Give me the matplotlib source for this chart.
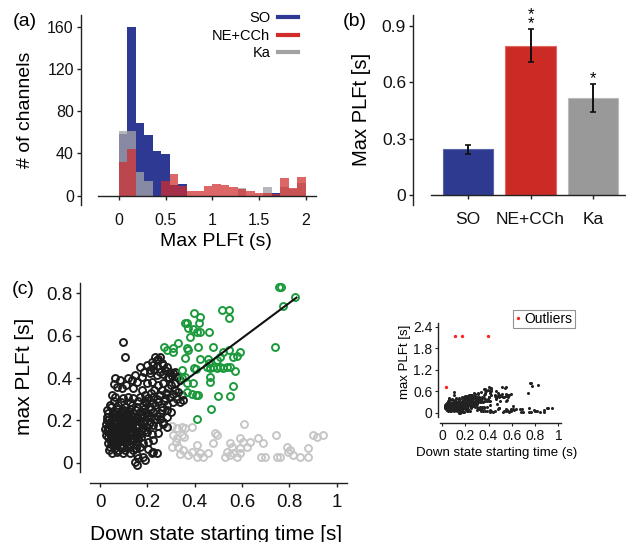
"""Max PLFt figure: histogram (a), bar means (b), scatter vs down-state onset (c) with inset."""

import matplotlib

matplotlib.use("Agg")
import matplotlib.pyplot as plt
import numpy as np
from matplotlib.lines import Line2D

plt.rcParams["font.family"] = ["Liberation Sans", "DejaVu Sans"]

# ---- panel (a): histogram counts, 22 bins over 0..2 s
bin_edges = np.linspace(0.0, 2.0, 23)
so_counts = [58, 160, 69, 57, 42, 39, 10, 11, 0, 0, 0, 0, 0, 0, 0, 0, 0, 0, 3, 0, 0, 0]
ka_counts = [61, 61, 22, 14, 0, 0, 0, 0, 0, 0, 0, 0, 0, 0, 7.5, 0, 0, 8.5, 0, 8, 6, 12]
ne_counts = [32, 44, 0, 0, 0, 14, 21, 9, 4, 4, 9, 11, 10, 8, 6, 4, 3, 3, 2, 17, 7, 18]
hist_labels = ["SO", "NE+CCh", "Ka"]

# ---- panel (b): condition means and errors
conditions = ["SO", "NE+CCh", "Ka"]
mean_plft = [0.245, 0.796, 0.515]
sem_plft = [0.024, 0.088, 0.075]
stars = ["", "*\n*", "*"]

# ---- panel (c): scatter points (down state start [s], max PLFt [s])
black_points = [
    (0.099, 0.572), (0.106, 0.498), (0.169, 0.450),
    (0.232, 0.498), (0.254, 0.498), (0.239, 0.485), (0.218, 0.477), (0.246, 0.490),
    (0.197, 0.461), (0.225, 0.461), (0.268, 0.461), (0.282, 0.454), (0.240, 0.455),
    (0.296, 0.430), (0.303, 0.409), (0.310, 0.422), (0.289, 0.406), (0.318, 0.430),
    (0.063, 0.398), (0.085, 0.391), (0.120, 0.398), (0.134, 0.391), (0.155, 0.383),
    (0.148, 0.414), (0.176, 0.406), (0.211, 0.422), (0.239, 0.414), (0.254, 0.430),
    (0.268, 0.420), (0.070, 0.359), (0.092, 0.351), (0.141, 0.351), (0.060, 0.372),
    (0.108, 0.365), (0.197, 0.375), (0.218, 0.383), (0.246, 0.367), (0.268, 0.375),
    (0.289, 0.351), (0.317, 0.343), (0.331, 0.335), (0.345, 0.320), (0.324, 0.406),
    (0.338, 0.391), (0.317, 0.375), (0.300, 0.365), (0.230, 0.345), (0.176, 0.345),
    (0.049, 0.320), (0.063, 0.312), (0.099, 0.304), (0.120, 0.312), (0.141, 0.304),
    (0.169, 0.312), (0.204, 0.304), (0.225, 0.312), (0.254, 0.320), (0.275, 0.304),
    (0.296, 0.312), (0.324, 0.299), (0.349, 0.296), (0.310, 0.325),
    (0.042, 0.272), (0.077, 0.272), (0.106, 0.265), (0.134, 0.272), (0.155, 0.265),
    (0.183, 0.272), (0.058, 0.290), (0.090, 0.285), (0.125, 0.288), (0.160, 0.290),
    (0.190, 0.290), (0.211, 0.265), (0.232, 0.272), (0.261, 0.265), (0.282, 0.272),
    (0.310, 0.288), (0.338, 0.288), (0.245, 0.285), (0.270, 0.290),
    (0.035, 0.233), (0.056, 0.241), (0.085, 0.233), (0.113, 0.241), (0.141, 0.233),
    (0.169, 0.241), (0.197, 0.233), (0.070, 0.255), (0.100, 0.250), (0.128, 0.255),
    (0.185, 0.252), (0.225, 0.241), (0.254, 0.233), (0.282, 0.249), (0.300, 0.240),
    (0.215, 0.252),
    (0.028, 0.202), (0.042, 0.194), (0.063, 0.202), (0.077, 0.209), (0.092, 0.194),
    (0.110, 0.202), (0.127, 0.194), (0.148, 0.202), (0.169, 0.194), (0.190, 0.202),
    (0.211, 0.194), (0.232, 0.205), (0.254, 0.205), (0.268, 0.194), (0.282, 0.217),
    (0.030, 0.218), (0.050, 0.222), (0.068, 0.215), (0.085, 0.222), (0.102, 0.218),
    (0.120, 0.222), (0.138, 0.216), (0.158, 0.222), (0.178, 0.216), (0.200, 0.220),
    (0.035, 0.170), (0.056, 0.162), (0.073, 0.173), (0.092, 0.157), (0.113, 0.170),
    (0.134, 0.162), (0.155, 0.170), (0.176, 0.162), (0.197, 0.170), (0.225, 0.178),
    (0.246, 0.173), (0.268, 0.181), (0.282, 0.170),
    (0.025, 0.185), (0.045, 0.180), (0.062, 0.186), (0.082, 0.178), (0.100, 0.185),
    (0.120, 0.180), (0.140, 0.186), (0.160, 0.180), (0.182, 0.186), (0.205, 0.182),
    (0.042, 0.136), (0.063, 0.128), (0.085, 0.136), (0.106, 0.128), (0.127, 0.136),
    (0.148, 0.128), (0.169, 0.136), (0.197, 0.143), (0.218, 0.136), (0.246, 0.139),
    (0.030, 0.148), (0.050, 0.150), (0.070, 0.145), (0.090, 0.150), (0.110, 0.146),
    (0.130, 0.150), (0.150, 0.146), (0.172, 0.150), (0.188, 0.155),
    (0.042, 0.106), (0.063, 0.099), (0.085, 0.104), (0.106, 0.099), (0.134, 0.106),
    (0.155, 0.099), (0.183, 0.091), (0.204, 0.099), (0.225, 0.106),
    (0.035, 0.120), (0.055, 0.118), (0.075, 0.115), (0.095, 0.120), (0.118, 0.115),
    (0.140, 0.118), (0.160, 0.115), (0.175, 0.120),
    (0.042, 0.076), (0.063, 0.068), (0.085, 0.072), (0.113, 0.076), (0.141, 0.060),
    (0.169, 0.076), (0.204, 0.063), (0.225, 0.052), (0.239, 0.047),
    (0.050, 0.090), (0.072, 0.088), (0.095, 0.085), (0.122, 0.090), (0.150, 0.085),
    (0.049, 0.047), (0.070, 0.052), (0.099, 0.044), (0.127, 0.047), (0.155, 0.036),
    (0.183, 0.028), (0.218, 0.044),
    (0.148, 0.005), (0.155, -0.011), (0.190, 0.013), (0.160, 0.020),
    (0.022, 0.160), (0.038, 0.155), (0.052, 0.172), (0.066, 0.158), (0.080, 0.166),
    (0.097, 0.172), (0.104, 0.158), (0.122, 0.165), (0.137, 0.175), (0.145, 0.155),
    (0.026, 0.132), (0.048, 0.138), (0.058, 0.124), (0.078, 0.130), (0.096, 0.138),
    (0.115, 0.127), (0.137, 0.140), (0.157, 0.130),
    (0.034, 0.095), (0.055, 0.105), (0.075, 0.098), (0.092, 0.110), (0.115, 0.100),
    (0.128, 0.112), (0.145, 0.108),
    (0.040, 0.062), (0.056, 0.080), (0.078, 0.060), (0.092, 0.070), (0.106, 0.062),
    (0.128, 0.072), (0.152, 0.070),
    (0.030, 0.250), (0.046, 0.262), (0.064, 0.232), (0.094, 0.242), (0.118, 0.230),
    (0.150, 0.248), (0.176, 0.230),
    (0.038, 0.205), (0.056, 0.210), (0.072, 0.196), (0.088, 0.208), (0.104, 0.196),
    (0.118, 0.210), (0.136, 0.204), (0.158, 0.210),
    (0.190, 0.320), (0.215, 0.330), (0.260, 0.345), (0.280, 0.330), (0.240, 0.300),
    (0.195, 0.280), (0.225, 0.280), (0.260, 0.250), (0.240, 0.220), (0.215, 0.215),
    (0.190, 0.240), (0.290, 0.400), (0.275, 0.440), (0.260, 0.470), (0.230, 0.440),
    (0.210, 0.440), (0.185, 0.430),
]

green_points = [
    (0.758, 0.828), (0.765, 0.828), (0.824, 0.784), (0.775, 0.742), (0.741, 0.545),
    (0.514, 0.721), (0.546, 0.721), (0.544, 0.682), (0.399, 0.706), (0.423, 0.690),
    (0.420, 0.658), (0.359, 0.658), (0.366, 0.658), (0.373, 0.635), (0.392, 0.630),
    (0.408, 0.619), (0.423, 0.619), (0.380, 0.595), (0.462, 0.619), (0.272, 0.545),
    (0.310, 0.540), (0.307, 0.524), (0.331, 0.567), (0.366, 0.540), (0.373, 0.532),
    (0.415, 0.545), (0.479, 0.545), (0.518, 0.524), (0.546, 0.532), (0.592, 0.524),
    (0.359, 0.493), (0.423, 0.488), (0.458, 0.488), (0.462, 0.472), (0.493, 0.485),
    (0.507, 0.501), (0.563, 0.498), (0.577, 0.504), (0.399, 0.449), (0.404, 0.443),
    (0.345, 0.438), (0.451, 0.454), (0.465, 0.446), (0.479, 0.454), (0.493, 0.449),
    (0.507, 0.454), (0.521, 0.449), (0.535, 0.450), (0.549, 0.454), (0.570, 0.433),
    (0.465, 0.406), (0.345, 0.398), (0.359, 0.406), (0.366, 0.375), (0.394, 0.375),
    (0.465, 0.383), (0.561, 0.362), (0.366, 0.335), (0.387, 0.324), (0.406, 0.320),
    (0.415, 0.320), (0.500, 0.315), (0.549, 0.315), (0.468, 0.252), (0.408, 0.208),
    (0.282, 0.532),
]

gray_points = [
    (0.303, 0.173), (0.324, 0.162), (0.345, 0.170), (0.359, 0.162), (0.387, 0.170),
    (0.310, 0.131), (0.324, 0.115), (0.345, 0.131), (0.356, 0.123), (0.303, 0.076),
    (0.331, 0.076), (0.352, 0.060), (0.338, 0.039), (0.373, 0.036), (0.408, 0.083),
    (0.387, 0.052), (0.423, 0.047), (0.408, 0.028), (0.437, 0.028), (0.458, 0.044),
    (0.486, 0.139), (0.479, 0.091), (0.535, 0.052), (0.549, 0.091), (0.556, 0.076),
    (0.563, 0.047), (0.577, 0.028), (0.528, 0.028), (0.549, 0.036), (0.592, 0.115),
    (0.606, 0.099), (0.620, 0.076), (0.634, 0.099), (0.610, 0.181), (0.590, 0.068),
    (0.592, 0.047), (0.669, 0.115), (0.690, 0.091), (0.679, 0.028), (0.697, 0.028),
    (0.744, 0.131), (0.746, 0.028), (0.761, 0.028), (0.789, 0.076), (0.796, 0.052),
    (0.803, 0.060), (0.817, 0.036), (0.845, 0.028), (0.880, 0.068), (0.880, 0.028),
    (0.901, 0.131), (0.915, 0.123), (0.944, 0.131), (0.493, 0.131), (0.320, 0.100),
]

fit_x = [0.32, 0.83]
fit_y = [0.355, 0.78]

outlier_x = [0.033, 0.110, 0.173, 0.397]
outlier_y = [0.726, 2.14, 2.14, 2.14]

W, H = 626, 542
AXIS_COLOR = "#222222"


def px_rect(left, top, right, bottom):
    """Figure-fraction rect from pixel box (top-left origin)."""
    return [left / W, 1 - bottom / H, (right - left) / W, (bottom - top) / H]


def style_axes(ax, tick_size):
    for side in ("top", "right"):
        ax.spines[side].set_visible(False)
    for side in ("left", "bottom"):
        ax.spines[side].set_color(AXIS_COLOR)
        ax.spines[side].set_linewidth(1.0)
    ax.tick_params(direction="out", length=3.2, width=1.0, color=AXIS_COLOR,
                   labelsize=tick_size, labelcolor="#111111")
    ax.patch.set_visible(False)


def plot_hist(fig):
    ax = fig.add_axes(px_rect(81, 15, 316, 205))
    style_axes(ax, 11.5)
    left = bin_edges[:-1]
    width = np.diff(bin_edges)
    ax.bar(left, so_counts, width=width, align="edge", color="#2d3992", linewidth=0)
    ax.bar(left, ka_counts, width=width, align="edge", color="#a2a2aa", alpha=0.78, linewidth=0)
    ax.bar(left, ne_counts, width=width, align="edge", color="#d12c2c", alpha=0.72, linewidth=0)
    ax.set_xlim(-0.407, 2.111)
    ax.set_ylim(-8.8, 171)
    ax.spines["bottom"].set_position(("data", 0))
    ax.spines["bottom"].set_bounds(-0.22, 2.111)
    ax.set_xticks([0, 0.5, 1, 1.5, 2], ["0", "0.5", "1", "1.5", "2"])
    ax.set_yticks([0, 40, 80, 120, 160])
    ax.tick_params(axis="x", pad=9)
    ax.tick_params(axis="y", pad=2)
    ax.set_xlabel("Max PLFt (s)", fontsize=14)
    ax.xaxis.label.set_va("center")
    ax.xaxis.set_label_coords(0.574, -0.193)
    ax.set_ylabel("# of channels", fontsize=14)
    ax.yaxis.label.set_va("center")
    ax.yaxis.set_label_coords(-0.238, 0.5)

    handles = [Line2D([], [], color=c, lw=3) for c in ("#2d3992", "#d12c2c", "#a2a2a2")]
    leg = ax.legend(handles, hist_labels, loc="upper right", bbox_to_anchor=(298 / W, 1 - 11 / H),
                    bbox_transform=fig.transFigure, frameon=False, markerfirst=False,
                    fontsize=10.5, handlelength=1.4, handletextpad=0.5, labelspacing=0.25,
                    borderpad=0, borderaxespad=0)
    for col in leg._legend_handle_box.get_children():
        col.align = "right"
    fig.text(13 / W, 1 - 22 / H, "(a)", fontsize=14, va="center", ha="left")


def plot_bars(fig):
    ax = fig.add_axes(px_rect(413.3, 15, 626, 205))
    style_axes(ax, 12.5)
    pos = np.arange(1, len(conditions) + 1)
    ax.bar(pos, mean_plft, width=0.8, color=["#2e3a8f", "#cc2b25", "#999999"],
           edgecolor=["#5a64a8", "#e06a63", "#bbbbbb"], linewidth=0.8)
    ax.errorbar(pos, mean_plft, yerr=sem_plft, fmt="none", ecolor="#111111",
                elinewidth=1.4, capsize=2.5, capthick=1.2)
    for x, m, e, s in zip(pos, mean_plft, sem_plft, stars):
        if s:
            ax.text(x, m + e - 0.012, s, ha="center", va="bottom", fontsize=12,
                    linespacing=0.55, clip_on=False)
    ax.set_xlim(0.134, 3.52)
    ax.set_ylim(-0.053, 0.9586)
    ax.spines["bottom"].set_position(("data", 0))
    ax.spines["bottom"].set_bounds(0.416, 3.52)
    ax.set_xticks(pos, conditions)
    ax.set_yticks([0, 0.3, 0.6, 0.9], ["0", "0.3", "0.6", "0.9"])
    ax.tick_params(axis="x", pad=9)
    ax.tick_params(axis="y", pad=2)
    ax.set_ylabel("Max PLFt [s]", fontsize=14.5)
    ax.yaxis.label.set_va("center")
    ax.yaxis.set_label_coords(-0.243, 0.505)
    fig.text(343 / W, 1 - 21 / H, "(b)", fontsize=14, va="center", ha="left")


def plot_scatter(fig):
    ax = fig.add_axes(px_rect(80, 283, 347, 483))
    style_axes(ax, 13.5)
    blk = np.array(black_points)
    grn = np.array(green_points)
    gry = np.array(gray_points)
    mk = dict(marker="o", ls="none", mfc="none", ms=5.0, mew=1.4)
    ax.plot(gry[:, 0], gry[:, 1], mec="#c6c6c6", **mk)
    ax.plot(blk[:, 0], blk[:, 1], mec="#1c1c1c", **mk)
    ax.plot(grn[:, 0], grn[:, 1], mec="#1b9a3c", **mk)
    ax.plot(fit_x, fit_y, color="#111111", lw=1.5)
    ax.set_xlim(-0.0845, 1.0435)
    ax.set_ylim(-0.0959, 0.849)
    ax.spines["left"].set_bounds(-0.044, 0.849)
    ax.spines["bottom"].set_bounds(-0.042, 1.0435)
    ax.set_xticks([0, 0.2, 0.4, 0.6, 0.8, 1], ["0", "0.2", "0.4", "0.6", "0.8", "1"])
    ax.set_yticks([0, 0.2, 0.4, 0.6, 0.8], ["0", "0.2", "0.4", "0.6", "0.8"])
    ax.tick_params(axis="x", pad=5)
    ax.tick_params(axis="y", pad=2)
    ax.set_xlabel("Down state starting time [s]", fontsize=15)
    ax.xaxis.label.set_va("center")
    ax.xaxis.set_label_coords(0.509, -0.255)
    ax.set_ylabel("max PLFt [s]", fontsize=15)
    ax.yaxis.label.set_va("center")
    ax.yaxis.set_label_coords(-0.206, 0.535)
    fig.text(12 / W, 1 - 290 / H, "(c)", fontsize=14, va="center", ha="left")
    return np.vstack([blk, grn, gry])


def plot_inset(fig, all_points):
    ax = fig.add_axes(px_rect(437.5, 322.7, 561, 422.7))
    style_axes(ax, 10)
    ax.plot(all_points[:, 0], all_points[:, 1], "o", ls="none", ms=2.2,
            color="#222222", mew=0)
    ax.plot(outlier_x, outlier_y, "o", ls="none", ms=2.4, color="#ff2020", mew=0,
            label="Outliers")
    ax.set_xlim(-0.04, 1.023)
    ax.set_ylim(-0.279, 2.512)
    ax.spines["left"].set_bounds(-0.128, 2.512)
    ax.spines["bottom"].set_bounds(-0.02, 1.023)
    ax.set_xticks([0, 0.2, 0.4, 0.6, 0.8, 1], ["0", "0.2", "0.4", "0.6", "0.8", "1"])
    ax.set_yticks([0, 0.6, 1.2, 1.8, 2.4], ["0", "0.6", "1.2", "1.8", "2.4"])
    ax.tick_params(length=2.2, width=0.8)
    ax.tick_params(axis="x", pad=2)
    ax.tick_params(axis="y", pad=1.5)
    ax.set_xlabel("Down state starting time (s)", fontsize=9.5)
    ax.xaxis.label.set_va("center")
    ax.xaxis.set_label_coords(0.48, -0.306)
    ax.set_ylabel("max PLFt [s]", fontsize=9.5)
    ax.yaxis.label.set_va("center")
    ax.yaxis.set_label_coords(-0.263, 0.61)
    leg = ax.legend(loc="upper left", bbox_to_anchor=(512.7 / W, 1 - 310 / H),
                    bbox_transform=fig.transFigure, fontsize=10, handlelength=0.5,
                    handletextpad=0.2, borderpad=0.15, borderaxespad=0, fancybox=False,
                    markerscale=1.0)
    leg.get_frame().set_edgecolor("#777777")
    leg.get_frame().set_linewidth(0.8)


def main():
    fig = plt.figure(figsize=(W / 100, H / 100), dpi=100)
    plot_hist(fig)
    plot_bars(fig)
    pts = plot_scatter(fig)
    plot_inset(fig, pts)
    fig.savefig("out.png", dpi=100)
    plt.close(fig)


if __name__ == "__main__":
    main()
